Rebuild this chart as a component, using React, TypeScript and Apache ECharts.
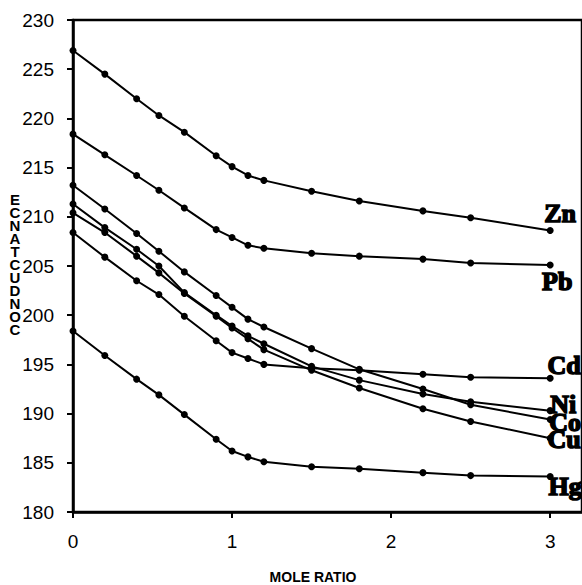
import React, { useEffect, useRef } from "react";
import * as echarts from "echarts";

const moleRatio = [0, 0.2, 0.4, 0.54, 0.7, 0.9, 1.0, 1.1, 1.2, 1.5, 1.8, 2.2, 2.5, 3.0];
const seriesNames = ["Zn", "Pb", "Cd", "Ni", "Co", "Cu", "Hg"];
const zn = [226.9, 224.5, 222.0, 220.3, 218.6, 216.2, 215.1, 214.2, 213.7, 212.6, 211.6, 210.6, 209.9, 208.6];
const pb = [218.4, 216.3, 214.2, 212.7, 210.9, 208.7, 207.9, 207.1, 206.8, 206.3, 206.0, 205.7, 205.3, 205.1];
const cd = [208.4, 205.9, 203.5, 202.1, 199.9, 197.4, 196.2, 195.6, 195.0, 194.6, 194.4, 194.0, 193.7, 193.6];
const ni = [211.3, 208.9, 206.7, 205.0, 202.3, 200.0, 198.9, 197.9, 197.1, 194.8, 193.4, 192.0, 191.2, 190.3];
const co = [213.2, 210.8, 208.3, 206.5, 204.4, 202.0, 200.8, 199.6, 198.8, 196.6, 194.5, 192.5, 190.9, 189.4];
const cu = [210.4, 208.4, 206.0, 204.3, 202.2, 199.9, 198.7, 197.6, 196.5, 194.4, 192.6, 190.5, 189.2, 187.5];
const hg = [198.4, 195.9, 193.5, 191.9, 189.9, 187.4, 186.2, 185.6, 185.1, 184.6, 184.4, 184.0, 183.7, 183.6];
const allValues = [zn, pb, cd, ni, co, cu, hg];

const xTicks = [0, 1, 2, 3];
const xAxisTitle = "MOLE RATIO";
const yAxisTitle = "CONDUCTANCE";

// label placement (style, not data)
const labelOffsets: Record<string, [number, number]> = {
  Zn: [10, -17],
  Pb: [7, 16],
  Cd: [14, -13],
  Ni: [13, -6],
  Co: [15, 3],
  Cu: [14, 1],
  Hg: [15, 10],
};

export default function App() {
  const ref = useRef<HTMLDivElement>(null);
  useEffect(() => {
    if (!ref.current) return;
    const chart = echarts.init(ref.current, null, { renderer: "svg" });
    const series = seriesNames.map((name, si) => {
      const vals = allValues[si];
      const data = vals.map((v, i) => {
        const item: any = { value: [moleRatio[i], v] };
        if (i === vals.length - 1) {
          item.label = {
            show: true,
            formatter: name,
            position: "inside",
            offset: labelOffsets[name],
            color: "#000",
            fontFamily: "Liberation Serif, serif",
            fontWeight: "bold",
            fontSize: 26,
            textBorderColor: "#000",
            textBorderWidth: 1.5,
          };
        }
        return item;
      });
      return {
        name,
        type: "line",
        data,
        symbol: "circle",
        symbolSize: 7,
        itemStyle: { color: "#000" },
        lineStyle: { color: "#000", width: 2 },
        z: 3,
      };
    });
    chart.setOption({
      animation: false,
      grid: {
        left: 73,
        top: 20,
        width: 512,
        height: 492,
        show: true,
        borderColor: "#000",
        borderWidth: 2.5,
        backgroundColor: "transparent",
      },
      xAxis: {
        type: "value",
        min: 0,
        max: 3.2,
        interval: 1,
        splitLine: { show: false },
        axisLine: { show: true, lineStyle: { color: "#000", width: 2.5 } },
        axisTick: { show: true, length: 6, lineStyle: { color: "#000", width: 2 } },
        axisLabel: {
          color: "#000",
          fontSize: 19,
          fontFamily: "Liberation Sans, Arial, sans-serif",
          margin: 20,
          showMaxLabel: false,
          formatter: (v: number) => (xTicks.includes(v) ? String(v) : ""),
        },
      },
      yAxis: {
        type: "value",
        min: 180,
        max: 230,
        interval: 5,
        splitLine: { show: false },
        axisLine: { show: true, lineStyle: { color: "#000", width: 2.5 } },
        axisTick: { show: true, length: 6, lineStyle: { color: "#000", width: 2 } },
        axisLabel: {
          color: "#000",
          fontSize: 19,
          fontFamily: "Liberation Sans, Arial, sans-serif",
          margin: 19,
        },
      },
      graphic: [
        {
          type: "text",
          x: 313,
          y: 577,
          style: {
            text: xAxisTitle,
            fontFamily: "Liberation Sans, Arial, sans-serif",
            fontWeight: "bold",
            fontSize: 14,
            fill: "#000",
            align: "center",
            verticalAlign: "middle",
          },
        },
        {
          type: "text",
          x: 15,
          y: 264,
          style: {
            text: yAxisTitle.split("").reverse().join("\n"),
            fontFamily: "Liberation Sans, Arial, sans-serif",
            fontWeight: "bold",
            fontSize: 15,
            lineHeight: 13,
            fill: "#000",
            align: "center",
            verticalAlign: "middle",
          },
        },
      ],
      series,
    });
    return () => chart.dispose();
  }, []);
  return (
    <div
      ref={ref}
      style={{ position: "fixed", left: 0, top: 0, width: 582, height: 585, background: "#fff" }}
    />
  );
}
